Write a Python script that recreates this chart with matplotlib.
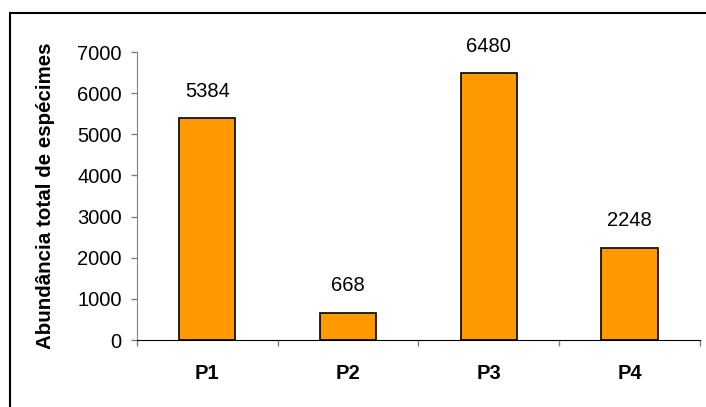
import matplotlib.pyplot as plt
from matplotlib.patches import Rectangle
import numpy as np

plt.rcParams['font.family'] = ['Liberation Sans', 'DejaVu Sans']

pontos = ["P1", "P2", "P3", "P4"]
abundancia = [5384, 668, 6480, 2248]
y_ticks = [0, 1000, 2000, 3000, 4000, 5000, 6000, 7000]

fig = plt.figure(figsize=(7.06, 4.07), dpi=100)
ax = fig.add_axes([0.194, 0.1646, 0.7975, 0.7076])

x = np.arange(len(pontos))
bars = ax.bar(x, abundancia, width=0.4, color="#FF9900", edgecolor="black", linewidth=1.2)

for xi, v in zip(x, abundancia):
    ax.annotate(str(v), (xi, v), xytext=(0, 12.5), textcoords="offset points",
                ha="center", va="bottom", fontsize=14.5)

ax.set_xlim(-0.5, len(pontos) - 0.5)
ax.set_ylim(0, 7000)
ax.set_yticks(y_ticks)
ax.tick_params(axis="y", labelsize=14.5, length=4, width=1, color="#808080", pad=7)

ax.set_xticks(x)
ax.set_xticklabels(pontos, fontsize=14.5, fontweight="bold")
ax.tick_params(axis="x", which="major", length=0, pad=17.5)
ax.set_xticks(np.arange(len(pontos) + 1) - 0.5, minor=True)
ax.tick_params(axis="x", which="minor", length=4, width=1, color="#808080", direction="out")

ax.spines["top"].set_visible(False)
ax.spines["right"].set_visible(False)
ax.spines["left"].set_color("#808080")
ax.spines["bottom"].set_color("black")

ax.set_ylabel("Abundância total de espécimes", fontsize=14.8, fontweight="bold")
ax.yaxis.set_label_coords(-0.146, 0.5)

# chart area border
fig.patches.append(Rectangle((0.0135, -0.1), 1.2, 1.069, transform=fig.transFigure,
                             fill=False, edgecolor="black", linewidth=1.5))

fig.savefig("out.png", dpi=100)
